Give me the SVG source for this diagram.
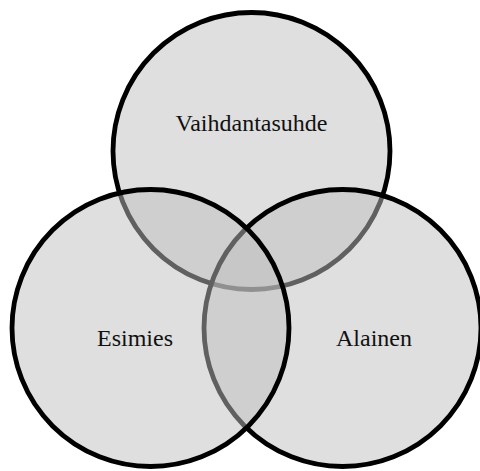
<svg xmlns="http://www.w3.org/2000/svg" width="480" height="471" viewBox="0 0 480 471">
<style>
.c{fill:#c0c0c0;fill-opacity:0.5;stroke:#000;stroke-width:4.8}
.t{font-family:"Liberation Serif","Times New Roman",serif;font-size:24px;fill:#111;text-anchor:middle}
</style>
<rect width="480" height="471" fill="#fff"/>
<g id="vaihdantasuhde"><circle class="c" cx="251.5" cy="151" r="138.5"/></g>
<g id="alainen"><circle class="c" cx="342.5" cy="328" r="138.5"/></g>
<g id="esimies"><circle class="c" cx="150.5" cy="328" r="138.5"/></g>
<g id="labels">
<text class="t" x="251.5" y="131">Vaihdantasuhde</text>
<text class="t" x="135" y="346">Esimies</text>
<text class="t" x="374" y="346">Alainen</text>
</g>
<g id="connectors"/>
</svg>
